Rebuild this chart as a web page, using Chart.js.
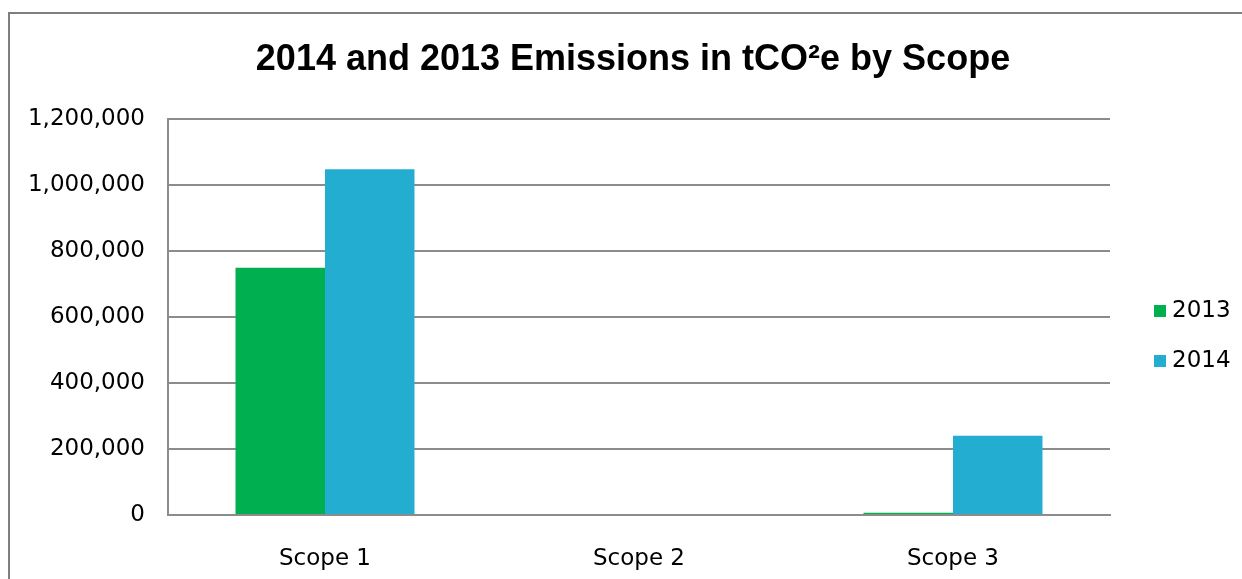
<!DOCTYPE html>
<html lang="en">
<head>
<meta charset="UTF-8">
<title>Emissions by Scope</title>
<script src="https://cdn.jsdelivr.net/npm/chart.js"></script>
<style>
  body { margin: 0; background: #fff; }
  canvas { display: block; }
</style>
</head>
<body>
<canvas id="scopeChart" width="1242" height="579"></canvas>
<script>
const chartTitle = '2014 and 2013 Emissions in tCO\u00B2e by Scope';
const scopes = ['Scope 1', 'Scope 2', 'Scope 3'];
const seriesNames = ['2013', '2014'];
const emissions2013 = [749000, 0, 7000];
const emissions2014 = [1048000, 0, 240000];
const yTicks = [0, 200000, 400000, 600000, 800000, 1000000, 1200000];

const GREEN = '#00b050';
const BLUE = '#23aed1';
const GRID = '#8c8c8c';
const FONT = "'DejaVu Sans', sans-serif";

// frame, title and legend are painted by hand around the plot
const decorations = {
   id: 'decorations',
   beforeDraw(chart) {
      const ctx = chart.ctx;
      ctx.save();
      ctx.strokeStyle = '#7f7f7f';
      ctx.lineWidth = 2;
      ctx.beginPath();
      ctx.moveTo(9, chart.height);
      ctx.lineTo(9, 13);
      ctx.lineTo(chart.width, 13);
      ctx.stroke();
      ctx.restore();
   },
   afterDraw(chart) {
      const ctx = chart.ctx;
      const area = chart.chartArea;
      ctx.save();
      ctx.fillStyle = '#000';
      ctx.font = "bold 36px 'Liberation Sans', sans-serif";
      ctx.textAlign = 'center';
      ctx.textBaseline = 'middle';
      ctx.fillText(chartTitle, 633, 60);

      ctx.font = '23px ' + FONT;
      ctx.textAlign = 'left';
      chart.data.datasets.forEach((ds, i) => {
         const y = area.top + 192 + i * 50;
         ctx.fillStyle = ds.backgroundColor;
         ctx.fillRect(area.right + 44, y - 6, 12, 12);
         ctx.fillStyle = '#000';
         ctx.fillText(ds.label, area.right + 62, y);
      });
      ctx.restore();
   }
};

const ctx = document.getElementById('scopeChart').getContext('2d');
new Chart(ctx, {
   type: 'bar',
   data: {
      labels: scopes,
      datasets: [
         { label: seriesNames[0], data: emissions2013, backgroundColor: GREEN },
         { label: seriesNames[1], data: emissions2014, backgroundColor: BLUE }
      ]
   },
   options: {
      responsive: false,
      animation: false,
      categoryPercentage: 0.57,
      barPercentage: 1.0,
      layout: { padding: { top: 119, right: 132, bottom: 0, left: 0 } },
      plugins: {
         legend: { display: false },
         title: { display: false },
         tooltip: { enabled: false }
      },
      scales: {
         x: {
            grid: { display: false },
            border: { display: true, color: GRID, width: 2 },
            ticks: { color: '#000', font: { family: FONT, size: 23 }, padding: 22 },
            afterFit: (scale) => { scale.height = 64; }
         },
         y: {
            min: 0,
            max: 1200000,
            afterBuildTicks: (scale) => { scale.ticks = yTicks.map(v => ({ value: v })); },
            grid: { color: GRID, lineWidth: 2, drawTicks: false },
            border: { display: true, color: GRID, width: 2 },
            ticks: {
               color: '#000',
               font: { family: FONT, size: 23 },
               padding: 23,
               callback: (v) => v.toLocaleString('en-US')
            },
            afterFit: (scale) => { scale.width = 168; }
         }
      }
   },
   plugins: [decorations]
});
</script>
</body>
</html>
